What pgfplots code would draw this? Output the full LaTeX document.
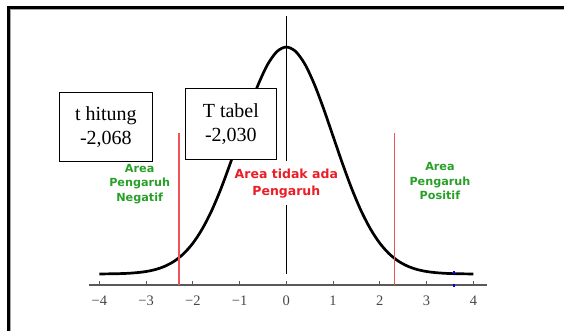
\documentclass[border=0pt]{standalone}
\usepackage{fontspec}
\setmainfont{Liberation Serif}
\newfontfamily\dv{DejaVu Sans}
\usepackage{pgfplots}
\pgfplotsset{compat=1.18}
\definecolor{areagreen}{RGB}{40,160,40}
\definecolor{areared}{RGB}{235,30,40}
\definecolor{redline}{RGB}{235,85,90}
\newcommand\tl{\fontsize{14.5}{16}\selectfont}
\begin{document}
\begin{tikzpicture}[x=1pt,y=1pt]
\path[use as bounding box] (0,0) rectangle (564,330);
\draw[line width=2.8pt, black] (8.7,-3) -- (8.7,322.5) -- (567,322.5);
\draw[line width=0.6pt, black!35] (10.6,-3) -- (10.6,320.6) -- (567,320.6);
\begin{axis}[
  at={(88.8pt,45pt)}, anchor=south west, scale only axis,
  width=398.6pt, height=269pt,
  xmin=-4.225, xmax=4.30, ymin=-0.0193, ymax=0.4534,
  axis x line=bottom, axis y line=none,
  x axis line style={-, line width=1.6pt, black!65},
  xtick={-4,-3,-2,-1,0,1,2,3,4},
  xticklabels={{\tl −4},{\tl −3},{\tl −2},{\tl −1},{\tl 0},{\tl 1},{\tl 2},{\tl 3},{\tl 4}},
  xtick align=inside, major tick length=4pt,
  every tick/.style={black!65, line width=0.9pt},
  xticklabel style={text=black!72, yshift=-7.5pt},
  clip=false,
]
\addplot[black, line width=2.7pt, smooth] coordinates {
(-4.0,0.0001) (-3.8,0.0003) (-3.6,0.0006) (-3.4,0.0012) (-3.2,0.0024)
(-3.0,0.0044) (-2.8,0.0079) (-2.6,0.0136) (-2.4,0.0224) (-2.2,0.0355)
(-2.0,0.0540) (-1.8,0.0790) (-1.6,0.1109) (-1.4,0.1497) (-1.2,0.1942)
(-1.0,0.2420) (-0.8,0.2897) (-0.6,0.3332) (-0.4,0.3683) (-0.2,0.3910)
(0.0,0.3989) (0.2,0.3910) (0.4,0.3683) (0.6,0.3332) (0.8,0.2897)
(1.0,0.2420) (1.2,0.1942) (1.4,0.1497) (1.6,0.1109) (1.8,0.0790)
(2.0,0.0540) (2.2,0.0355) (2.4,0.0224) (2.6,0.0136) (2.8,0.0079)
(3.0,0.0044) (3.2,0.0024) (3.4,0.0012) (3.6,0.0006) (3.8,0.0003) (4.0,0.0001)};
\addplot[black, line width=1.2pt] coordinates {(0,0) (0,0.1213)};
\addplot[black, line width=1.2pt] coordinates {(0,0.1986) (0,0.4534)};
\addplot[redline, line width=1.6pt] coordinates {(-2.3,-0.0193) (-2.3,0.2478)};
\addplot[redline, line width=1.6pt] coordinates {(2.31,-0.0193) (2.31,0.2478)};
\addplot[blue, only marks, mark=square*, mark size=0.7pt] coordinates {(3.58,0.0035) (3.58,-0.0193)};
\node[draw, line width=1.1pt, fill=white, minimum width=93pt, minimum height=68.3pt,
  align=center, inner sep=0pt, font=\fontsize{20}{24}\selectfont]
  at (axis cs:-3.86,0.2583) {t hitung\\-2,068};
\node[draw, line width=1.1pt, fill=white, minimum width=91pt, minimum height=70.7pt,
  align=center, inner sep=0pt, font=\fontsize{20}{24}\selectfont]
  at (axis cs:-1.187,0.2636) {T tabel\\-2,030};
\node[align=center, inner sep=0pt, text=areagreen, font=\dv\bfseries\fontsize{11.2}{14.5}\selectfont]
  at (axis cs:-3.137,0.158) {Area\\Pengaruh\\Negatif};
\node[align=center, inner sep=0pt, text=areared, font=\dv\bfseries\fontsize{12.5}{17}\selectfont]
  at (axis cs:0,0.159) {Area tidak ada\\Pengaruh};
\node[align=center, inner sep=0pt, text=areagreen, font=\dv\bfseries\fontsize{11.2}{14.5}\selectfont]
  at (axis cs:3.285,0.1634) {Area\\Pengaruh\\Positif};
\end{axis}
\end{tikzpicture}
\end{document}
